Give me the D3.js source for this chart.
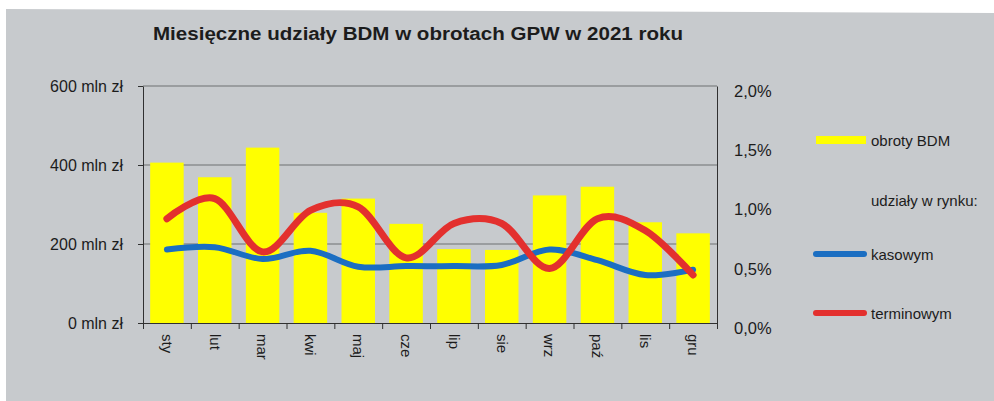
<!DOCTYPE html>
<html>
<head>
<meta charset="utf-8">
<script src="https://cdn.jsdelivr.net/npm/d3@7"></script>
<style>
body { margin: 0; background: #fff; }
text { font-family: "Liberation Sans", Arial, sans-serif; fill: #1c1c1c; }
</style>
</head>
<body>
<div id="chart"></div>
<script>
// dane z wykresu
var months = ["sty", "lut", "mar", "kwi", "maj", "cze", "lip", "sie", "wrz", "paź", "lis", "gru"];
var obroty = [406, 369, 444, 279, 315, 251, 187, 185, 323, 345, 255, 227];      // mln zł
var kasowy = [0.62, 0.64, 0.54, 0.61, 0.475, 0.48, 0.48, 0.49, 0.62, 0.53, 0.405, 0.45];   // %
var terminowy = [0.88, 1.05, 0.60, 0.95, 0.98, 0.55, 0.84, 0.84, 0.46, 0.88, 0.78, 0.405]; // %
var leftTicks = [0, 200, 400, 600];
var rightTicks = [0, 0.5, 1.0, 1.5, 2.0];

var width = 994,
    height = 401;
var plotLeft = 143, plotRight = 717, plotTop = 86, plotBottom = 323;

var yellow = "#ffff00", blue = "#1b6ec2", red = "#e3302e";

var svg = d3.select("#chart").append("svg")
    .attr("width", width)
    .attr("height", height);

// szare tlo skanu
svg.append("path")
    .attr("d", "M6,9 L994,13 L994,401 L6,401 Z")
    .attr("fill", "#c7cacd");

var x = d3.scaleBand()
    .domain(months)
    .range([plotLeft, plotRight])
    .paddingInner(0.3)
    .paddingOuter(0.15);

var xb = d3.scaleLinear()
    .domain([0, months.length])
    .range([plotLeft, plotRight]);

var yL = d3.scaleLinear()
    .domain([0, 600])
    .range([plotBottom, plotTop]);

var yR = d3.scaleLinear()
    .domain([0, 2])
    .range([plotBottom, plotTop]);

// tytul
svg.append("text")
    .attr("x", 153)
    .attr("y", 40)
    .attr("font-size", "18px")
    .attr("font-weight", "bold")
    .attr("textLength", 530)
    .attr("lengthAdjust", "spacingAndGlyphs")
    .text("Miesięczne udziały BDM w obrotach GPW w 2021 roku");

// linie siatki
svg.append("g")
  .selectAll("line")
    .data(leftTicks.filter(function(d) { return d > 0; }))
  .enter().append("line")
    .attr("x1", plotLeft)
    .attr("x2", plotRight)
    .attr("y1", function(d) { return yL(d); })
    .attr("y2", function(d) { return yL(d); })
    .attr("stroke", "#6f7173")
    .attr("stroke-width", 1.2);

// slupki
svg.append("g")
  .selectAll("rect")
    .data(obroty)
  .enter().append("rect")
    .attr("x", function(d, i) { return x(months[i]); })
    .attr("y", function(d) { return yL(d); })
    .attr("width", x.bandwidth())
    .attr("height", function(d) { return plotBottom - yL(d); })
    .attr("fill", yellow);

// osie
var axisLeft = svg.append("g")
    .attr("transform", "translate(" + plotLeft + ",0)")
    .style("color", "#303030")
    .call(d3.axisLeft(yL)
      .tickValues(leftTicks)
      .tickSize(5)
      .tickSizeOuter(0)
      .tickPadding(15)
      .tickFormat(function(d) { return d + " mln zł"; }));
axisLeft.selectAll("text")
    .attr("font-size", "16px")
    .style("font-family", "\"Liberation Sans\", Arial, sans-serif")
    .attr("fill", "#1c1c1c");

var axisRight = svg.append("g")
    .attr("transform", "translate(" + plotRight + ",0)")
    .style("color", "#303030")
    .call(d3.axisRight(yR)
      .tickValues(rightTicks)
      .tickSize(0)
      .tickPadding(17)
      .tickFormat(function(d) { return d3.format(".1f")(d).replace(".", ",") + "%"; }));
axisRight.selectAll("text")
    .attr("font-size", "16.5px")
    .attr("transform", "translate(0,5)")
    .style("font-family", "\"Liberation Sans\", Arial, sans-serif")
    .attr("fill", "#1c1c1c");

svg.append("g")
    .attr("transform", "translate(0," + plotBottom + ")")
    .style("color", "#303030")
    .call(d3.axisBottom(xb)
      .tickValues(d3.range(months.length + 1))
      .tickSize(6)
      .tickSizeOuter(0)
      .tickFormat(""));

svg.append("g")
  .selectAll("text")
    .data(months)
  .enter().append("text")
    .attr("transform", function(d) {
      return "translate(" + (x(d) + x.bandwidth() / 2) + ",334) rotate(90)";
    })
    .attr("dy", "0.35em")
    .attr("font-size", "15px")
    .text(function(d) { return d; });

// linie udzialow
var line = d3.line()
    .x(function(d, i) { return x(months[i]) + x.bandwidth() / 2; })
    .y(function(d) { return yR(d); })
    .curve(d3.curveCardinal.tension(0));

svg.append("path")
    .datum(kasowy)
    .attr("d", line)
    .attr("fill", "none")
    .attr("stroke", blue)
    .attr("stroke-width", 6)
    .attr("stroke-linecap", "round");

svg.append("path")
    .datum(terminowy)
    .attr("d", line)
    .attr("fill", "none")
    .attr("stroke", red)
    .attr("stroke-width", 7)
    .attr("stroke-linecap", "round");

// legenda
var legend = svg.append("g");

legend.append("rect")
    .attr("x", 816)
    .attr("y", 136)
    .attr("width", 50)
    .attr("height", 8)
    .attr("fill", yellow);

legend.append("line")
    .attr("x1", 816).attr("x2", 864)
    .attr("y1", 254).attr("y2", 254)
    .attr("stroke", blue)
    .attr("stroke-width", 6)
    .attr("stroke-linecap", "round");

legend.append("line")
    .attr("x1", 816).attr("x2", 864)
    .attr("y1", 313).attr("y2", 313)
    .attr("stroke", red)
    .attr("stroke-width", 6)
    .attr("stroke-linecap", "round");

var legendTexts = [
  { t: "obroty BDM", y: 141 },
  { t: "udziały w rynku:", y: 201 },
  { t: "kasowym", y: 255 },
  { t: "terminowym", y: 314 }
];

legend.selectAll("text.lab")
    .data(legendTexts)
  .enter().append("text")
    .attr("class", "lab")
    .attr("x", 871)
    .attr("y", function(d) { return d.y; })
    .attr("dy", "0.35em")
    .attr("font-size", "15px")
    .text(function(d) { return d.t; });
</script>
</body>
</html>
